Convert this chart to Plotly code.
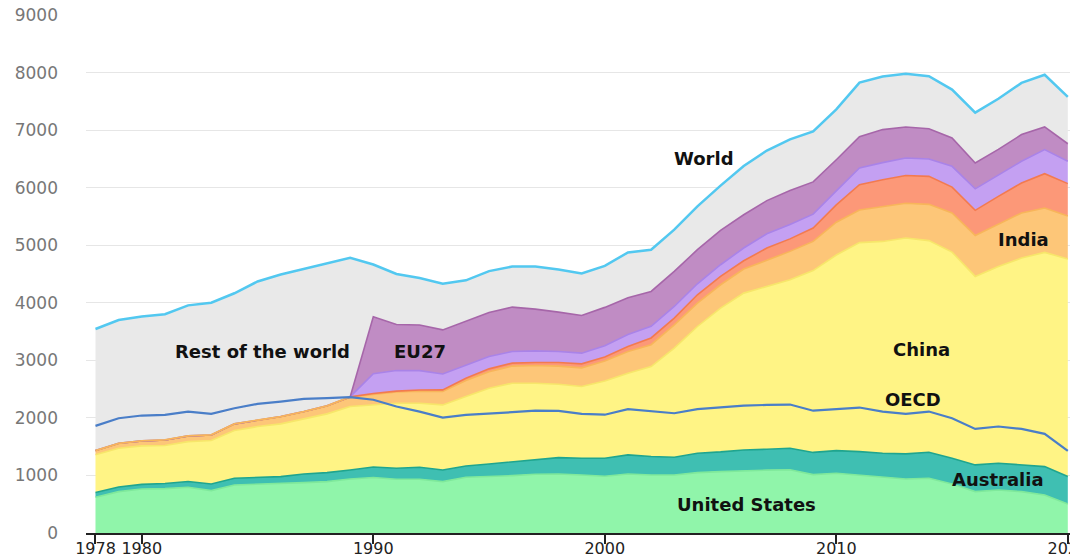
import plotly.graph_objects as go

years = list(range(1978, 2021))
years_from_1989 = list(range(1989, 2021))

united_states = [620, 719, 765, 771, 794, 736, 835, 846, 852, 875, 893, 939,
                 965, 933, 933, 893, 968, 980, 997, 1020, 1026, 1009,
                 985, 1026, 1009, 1009, 1049, 1067, 1084, 1093, 1100, 1015,
                 1038, 1009, 968, 939, 951, 852, 719, 748, 719, 661, 504]
australia = [85, 80, 80, 90, 100, 115, 116, 122, 128, 151, 156, 157,
             183, 192, 209, 203, 197, 220, 244, 261, 284, 290,
             315, 331, 319, 307, 337, 343, 359, 362, 372, 385,
             394, 405, 418, 435, 452, 446, 464, 464, 464, 493, 476]
china = [655, 673, 668, 658, 694, 755, 829, 881, 916, 951, 1021, 1101,
         1078, 1130, 1113, 1130, 1206, 1316, 1362, 1322, 1275, 1246,
         1340, 1420, 1564, 1896, 2202, 2497, 2725, 2825, 2928, 3160,
         3398, 3631, 3680, 3751, 3677, 3582, 3275, 3420, 3594, 3721, 3780]
india = [72, 87, 87, 98, 99, 98, 116, 116, 127, 133, 139, 168,
         185, 195, 210, 235, 279, 284, 297, 307, 315, 325,
         350, 375, 380, 405, 406, 406, 418, 455, 493, 507,
         570, 567, 609, 603, 630, 680, 712, 738, 783, 772, 747]
# series below start in 1989 (value 0 in 1989)
indonesia = [0,
             12, 15, 20, 25, 40, 52, 51, 52, 62, 69,
             68, 87, 117, 117, 145, 145, 144, 215, 217, 232,
             300, 440, 464, 484, 487, 450, 436, 479, 521, 596, 563]
russia = [0,
          343, 358, 336, 278, 232, 215, 203, 203, 192, 186,
          197, 209, 203, 202, 191, 203, 221, 250, 250, 241,
          245, 290, 296, 304, 302, 361, 374, 377, 377, 418, 388]
eu27 = [0,
        991, 800, 794, 765, 753, 765, 771, 725, 684, 655,
        665, 638, 605, 609, 592, 597, 579, 575, 590, 560,
        540, 543, 574, 539, 526, 493, 449, 439, 464, 394, 305]
rest_of_world = [2113, 2141, 2160, 2183, 2268, 2296, 2269, 2405, 2467, 2480, 2481, 2415,
                 908, 877, 815, 801, 715, 718, 705, 740, 742, 730,
                 720, 789, 725, 725, 753, 777, 845, 870, 890, 878,
                 877, 940, 921, 922, 911, 840, 876, 880, 898, 907, 814]
world = [3545, 3700, 3760, 3800, 3955, 4000, 4165, 4370, 4490, 4590, 4690, 4780,
         4665, 4500, 4430, 4330, 4390, 4550, 4630, 4630, 4580, 4510,
         4640, 4875, 4922, 5270, 5675, 6035, 6375, 6645, 6840, 6978,
         7362, 7825, 7930, 7977, 7936, 7704, 7305, 7545, 7820, 7962, 7577]
oecd = [1861, 1994, 2041, 2052, 2110, 2070, 2168, 2243, 2284, 2330, 2342, 2360,
        2315, 2197, 2110, 2006, 2052, 2070, 2099, 2127, 2122, 2070,
        2055, 2151, 2116, 2081, 2151, 2180, 2212, 2226, 2232, 2125,
        2154, 2180, 2110, 2070, 2110, 1994, 1809, 1850, 1809, 1722, 1426]

x_ticks = [1978, 1980, 1990, 2000, 2010, 2020]
y_ticks = list(range(0, 9001, 1000))

stack = [
    ("United States", years, united_states, "#90f5aa", "#7fe99b"),
    ("Australia", years, australia, "#3fbfb2", "#1fa58f"),
    ("China", years, china, "#fff485", "#f7e66a"),
    ("India", years, india, "#fdc678", "#f8b55a"),
    ("Indonesia", years_from_1989, indonesia, "#fc9878", "#f37a4f"),
    ("Russia", years_from_1989, russia, "#c4a0f2", "#a983e8"),
    ("EU27", years_from_1989, eu27, "#c08cc4", "#a666a9"),
]

fig = go.Figure()
for name, xs, ys, fillc, linec in stack:
    fig.add_trace(go.Scatter(x=xs, y=ys, name=name, mode="lines",
                             stackgroup="prod", fillcolor=fillc,
                             line=dict(color=linec, width=1.6),
                             hoverinfo="skip"))
fig.add_trace(go.Scatter(x=years, y=rest_of_world, name="Rest of the world",
                         mode="lines", stackgroup="prod", fillcolor="#e9e9e9",
                         line=dict(width=0), hoverinfo="skip"))

# before 1989 the layers above India are empty: redraw India's top edge there
n_pre = years.index(1989) + 1
india_top_pre = [united_states[i] + australia[i] + china[i] + india[i] for i in range(n_pre)]
fig.add_trace(go.Scatter(x=years[:n_pre], y=india_top_pre, mode="lines",
                         line=dict(color="#f8b55a", width=1.8), hoverinfo="skip",
                         showlegend=False))

fig.add_trace(go.Scatter(x=years, y=world, name="World", mode="lines",
                         line=dict(color="#52c8f0", width=2.5), hoverinfo="skip"))
fig.add_trace(go.Scatter(x=years, y=oecd, name="OECD", mode="lines",
                         line=dict(color="#4a7ec8", width=2.2), hoverinfo="skip"))

labels = [
    ("World", 2004.3, 6504),
    ("Rest of the world", 1985.2, 3148),
    ("EU27", 1992.0, 3153),
    ("India", 2018.1, 5096),
    ("China", 2013.7, 3195),
    ("OECD", 2013.3, 2325),
    ("Australia", 2017.0, 922),
    ("United States", 2006.1, 487),
]
for text, lx, ly in labels:
    fig.add_annotation(x=lx, y=ly, text="<b>" + text + "</b>", showarrow=False,
                       xanchor="center", yanchor="middle",
                       font=dict(family="DejaVu Sans", size=18, color="#111"))

# the page body has an 8px margin, so the figure is 8px smaller than the window
fig.update_layout(
    width=1070, height=551,
    margin=dict(l=78, r=0, t=7, b=26),
    paper_bgcolor="white", plot_bgcolor="white",
    showlegend=False,
    hovermode=False,
    font=dict(family="DejaVu Sans"),
)
fig.update_xaxes(range=[1977.59, 2020.44], tickvals=x_ticks, automargin=False,
                 ticklabeloverflow="allow", ticklabelstandoff=-9,
                 ticks="outside", ticklen=9, tickwidth=1.5, tickcolor="#222",
                 showline=True, linecolor="#222", linewidth=1.5,
                 showgrid=False, zeroline=False,
                 tickfont=dict(size=16, color="#222"))
fig.update_yaxes(range=[0, 9000], tickvals=y_ticks, automargin=False,
                 ticklabeloverflow="allow",
                 showgrid=True, gridcolor="#e6e6e6", gridwidth=1,
                 zeroline=False, showline=False, ticks="",
                 ticklabelstandoff=27,
                 tickfont=dict(size=17, color="#777"))

fig.write_html("out.html", config={"displayModeBar": False})
